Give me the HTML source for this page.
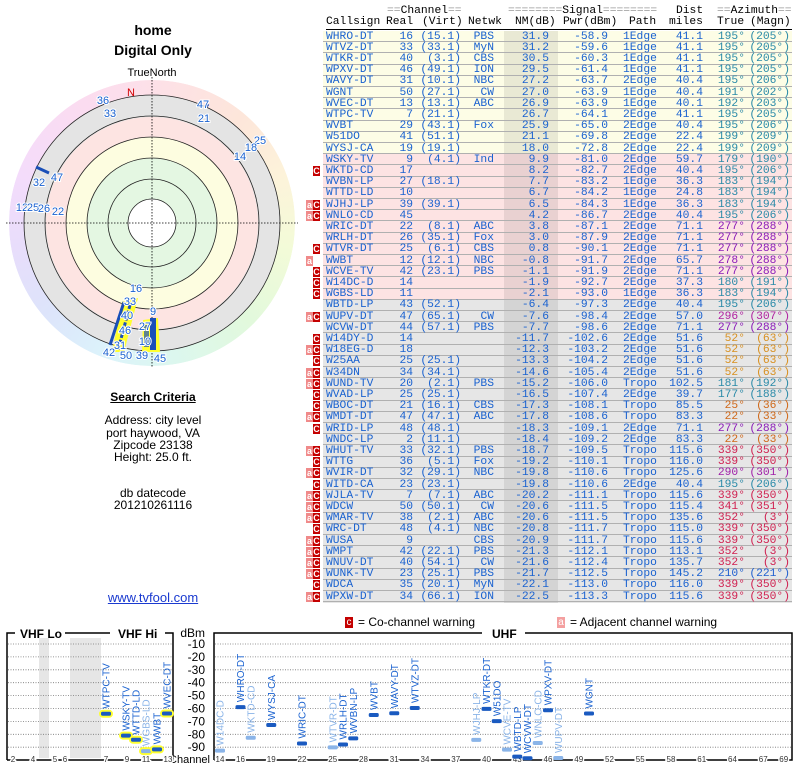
<!DOCTYPE html>
<html><head><meta charset="utf-8"><style>
body{margin:0;width:800px;height:768px;background:#fff;position:relative;overflow:hidden;font-family:"Liberation Sans",sans-serif}
.t{position:absolute;font-family:"Liberation Mono",monospace;font-size:11.3px;line-height:11px;white-space:pre;color:#1a62d0}
.h{color:#000}
.r{position:absolute;left:323px;width:469px;height:11.2px;border-bottom:1px solid #b0b0b0;box-sizing:border-box}
.nm{position:absolute;left:504px;width:54px;top:31px;height:572px;background:rgba(0,0,0,0.08)}
.b{position:absolute;width:7px;height:10px;font:bold 9px "Liberation Sans",sans-serif;color:#fff;text-align:center;line-height:10px}
.c{background:#c40000;left:313px}.a{background:#f08a8a;left:306px}
.lt{position:absolute;width:300px;left:0;text-align:center;font-size:12px;color:#000}
</style></head><body>
<div class="lt" style="top:22px;font-size:14px;font-weight:bold;left:3px">home</div>
<div class="lt" style="top:42px;font-size:14px;font-weight:bold;left:3px">Digital Only</div>
<svg style="position:absolute;left:0;top:60px" width="300" height="310" viewBox="0 60 300 310">
<defs><clipPath id="ring"><path d="M152,80a143,143 0 1,0 0.01,0zM152,95a128,128 0 1,1 -0.01,0z" clip-rule="evenodd"/></clipPath></defs>
<foreignObject x="9" y="80" width="286" height="286" clip-path="url(#ring)"><div xmlns="http://www.w3.org/1999/xhtml" style="width:286px;height:286px;border-radius:50%;background:conic-gradient(#fde0e8,#fde6da 40deg,#fdf3da 70deg,#f3fbd8 100deg,#e2f9dc 135deg,#dcf7ee 170deg,#dcf3fb 200deg,#dde4fb 230deg,#e8ddfb 260deg,#f4dcfb 290deg,#fbdcf0 330deg,#fde0e8)"></div></foreignObject>
<circle cx="152" cy="223" r="128" fill="#e4e4e4"/>
<circle cx="152" cy="223" r="106" fill="#fde4e2"/>
<circle cx="152" cy="223" r="86" fill="#fdfde0"/>
<circle cx="152" cy="223" r="65" fill="#e4f7e2"/>
<circle cx="152" cy="223" r="24" fill="#fff"/>
<g fill="none" stroke="#222" stroke-width="0.8"><circle cx="152" cy="223" r="128"/><circle cx="152" cy="223" r="107"/><circle cx="152" cy="223" r="86"/><circle cx="152" cy="223" r="65"/><circle cx="152" cy="223" r="44"/><circle cx="152" cy="223" r="24"/></g>
<g stroke="#000" stroke-width="0.8" stroke-dasharray="1.5,1.5"><line x1="6" y1="223" x2="298" y2="223"/><line x1="152" y1="77" x2="152" y2="368"/></g>
<text x="152" y="76" font-size="11" text-anchor="middle">TrueNorth</text>
<text x="131" y="96" font-size="11" fill="#d00000" text-anchor="middle">N</text>
<polygon points="122,302 138,298 124,352 112,352" fill="#ffff30"/>
<polygon points="143,320 158,318 160,352 142,352" fill="#ffff30"/>
<line x1="124" y1="302" x2="110" y2="345" stroke="#1a4fb8" stroke-width="3"/>
<line x1="130" y1="305" x2="118" y2="350" stroke="#1a4fb8" stroke-width="3" stroke-dasharray="4,2"/>
<rect x="150" y="318" width="6" height="32" fill="#1a4fb8"/><rect x="144" y="325" width="5" height="22" fill="#1a4fb8" opacity=".7"/>
<line x1="36" y1="167" x2="49" y2="173" stroke="#1a4fb8" stroke-width="3"/>
<line x1="205" y1="108" x2="208" y2="104" stroke="#1a4fb8" stroke-width="3"/>
<g font-size="11" fill="#1a62d0" text-anchor="middle" stroke="#fff" stroke-width="2" paint-order="stroke">
<text x="103" y="104">36</text><text x="110" y="117">33</text><text x="203" y="108">47</text><text x="204" y="122">21</text>
<text x="260" y="144">25</text><text x="251" y="151">18</text><text x="240" y="160">14</text><text x="57" y="181">47</text>
<text x="39" y="186">32</text><text x="22" y="211">12</text><text x="33" y="211">25</text><text x="44" y="212">26</text><text x="58" y="215">22</text>
<text x="136" y="292">16</text><text x="130" y="305">33</text><text x="127" y="319">40</text><text x="125" y="334">46</text>
<text x="120" y="349">31</text><text x="109" y="356">42</text><text x="126" y="359">50</text><text x="153" y="315">9</text>
<text x="145" y="330">27</text><text x="145" y="345">10</text><text x="142" y="359">39</text><text x="160" y="362">45</text></g>
</svg>
<div class="lt" style="top:390px;font-weight:bold;text-decoration:underline;left:3px">Search Criteria</div>
<div class="lt" style="top:413px;left:3px">Address: city level</div>
<div class="lt" style="top:426px;left:3px">port haywood, VA</div>
<div class="lt" style="top:438px;left:3px">Zipcode 23138</div>
<div class="lt" style="top:450px;left:3px">Height: 25.0 ft.</div>
<div class="lt" style="top:486px;left:3px">db datecode</div>
<div class="lt" style="top:498px;left:3px">201210261116</div>
<div class="lt" style="top:590px;left:3px;color:#1a3ad0;text-decoration:underline;font-size:13px">www.tvfool.com</div>

<div style="position:absolute;left:323px;top:31px;width:469px;height:123px;background:#fdfde6"></div>
<div style="position:absolute;left:323px;top:154px;width:469px;height:146px;background:#fde3e3"></div>
<div style="position:absolute;left:323px;top:300px;width:469px;height:303px;background:#e6e6e6"></div>
<div class="nm"></div>
<div style="position:absolute;left:326px;top:29px;width:466px;border-top:1px solid #000"></div>
<div class="t h" style="left:387px;top:6px"><span style="color:#999">==</span>Channel<span style="color:#999">==</span></div>
<div class="t h" style="left:508px;top:6px"><span style="color:#999">========</span>Signal<span style="color:#999">========</span></div>
<div class="t h" style="left:676px;top:6px">Dist</div>
<div class="t h" style="left:717px;top:6px"><span style="color:#999">==</span>Azimuth<span style="color:#999">==</span></div>
<div class="t h" style="left:326px;top:17px">Callsign</div><div class="t h" style="left:386px;top:17px">Real</div><div class="t h" style="left:422px;top:17px">(Virt)</div><div class="t h" style="left:468px;top:17px">Netwk</div><div class="t h" style="left:515px;top:17px">NM(dB)</div><div class="t h" style="left:563px;top:17px">Pwr(dBm)</div><div class="t h" style="left:629px;top:17px">Path</div><div class="t h" style="left:669px;top:17px">miles</div><div class="t h" style="left:717px;top:17px">True</div><div class="t h" style="left:750px;top:17px">(Magn)</div>
<div id="rows"></div>
<div style="position:absolute;left:345px;top:617px;width:8px;height:11px;background:#c40000;color:#fff;font-size:10px;text-align:center;line-height:11px">c</div>
<div style="position:absolute;left:358px;top:615px;font-size:12px">= Co-channel warning</div>
<div style="position:absolute;left:557px;top:617px;width:8px;height:11px;background:#f4a0a0;color:#fff;font-size:10px;text-align:center;line-height:11px">a</div>
<div style="position:absolute;left:570px;top:615px;font-size:12px">= Adjacent channel warning</div>
<svg id="bc" style="position:absolute;left:0;top:620px" width="800" height="148" viewBox="0 620 800 148"></svg>
<script>
var R=[
["WHRO-DT","16","(15.1)","PBS","31.9","-58.9","1Edge","41.1","195°","(205°)",""],
["WTVZ-DT","33","(33.1)","MyN","31.2","-59.6","1Edge","41.1","195°","(205°)",""],
["WTKR-DT","40","(3.1)","CBS","30.5","-60.3","1Edge","41.1","195°","(205°)",""],
["WPXV-DT","46","(49.1)","ION","29.5","-61.4","1Edge","41.1","195°","(205°)",""],
["WAVY-DT","31","(10.1)","NBC","27.2","-63.7","2Edge","40.4","195°","(206°)",""],
["WGNT","50","(27.1)","CW","27.0","-63.9","1Edge","40.4","191°","(202°)",""],
["WVEC-DT","13","(13.1)","ABC","26.9","-63.9","1Edge","40.1","192°","(203°)",""],
["WTPC-TV","7","(21.1)","","26.7","-64.1","2Edge","41.1","195°","(205°)",""],
["WVBT","29","(43.1)","Fox","25.9","-65.0","2Edge","40.4","195°","(206°)",""],
["W51DO","41","(51.1)","","21.1","-69.8","2Edge","22.4","199°","(209°)",""],
["WYSJ-CA","19","(19.1)","","18.0","-72.8","2Edge","22.4","199°","(209°)",""],
["WSKY-TV","9","(4.1)","Ind","9.9","-81.0","2Edge","59.7","179°","(190°)",""],
["WKTD-CD","17","","","8.2","-82.7","2Edge","40.4","195°","(206°)","c"],
["WVBN-LP","27","(18.1)","","7.7","-83.2","1Edge","36.3","183°","(194°)",""],
["WTTD-LD","10","","","6.7","-84.2","1Edge","24.8","183°","(194°)",""],
["WJHJ-LP","39","(39.1)","","6.5","-84.3","1Edge","36.3","183°","(194°)","ac"],
["WNLO-CD","45","","","4.2","-86.7","2Edge","40.4","195°","(206°)","ac"],
["WRIC-DT","22","(8.1)","ABC","3.8","-87.1","2Edge","71.1","277°","(288°)",""],
["WRLH-DT","26","(35.1)","Fox","3.0","-87.9","2Edge","71.1","277°","(288°)",""],
["WTVR-DT","25","(6.1)","CBS","0.8","-90.1","2Edge","71.1","277°","(288°)","c"],
["WWBT","12","(12.1)","NBC","-0.8","-91.7","2Edge","65.7","278°","(288°)","a"],
["WCVE-TV","42","(23.1)","PBS","-1.1","-91.9","2Edge","71.1","277°","(288°)","c"],
["W14DC-D","14","","","-1.9","-92.7","2Edge","37.3","180°","(191°)","c"],
["WGBS-LD","11","","","-2.1","-93.0","1Edge","36.3","183°","(194°)","c"],
["WBTD-LP","43","(52.1)","","-6.4","-97.3","2Edge","40.4","195°","(206°)",""],
["WUPV-DT","47","(65.1)","CW","-7.6","-98.4","2Edge","57.0","296°","(307°)","ac"],
["WCVW-DT","44","(57.1)","PBS","-7.7","-98.6","2Edge","71.1","277°","(288°)",""],
["W14DY-D","14","","","-11.7","-102.6","2Edge","51.6","52°","(63°)","c"],
["W18EG-D","18","","","-12.3","-103.2","2Edge","51.6","52°","(63°)","ac"],
["W25AA","25","(25.1)","","-13.3","-104.2","2Edge","51.6","52°","(63°)","c"],
["W34DN","34","(34.1)","","-14.6","-105.4","2Edge","51.6","52°","(63°)","ac"],
["WUND-TV","20","(2.1)","PBS","-15.2","-106.0","Tropo","102.5","181°","(192°)","ac"],
["WVAD-LP","25","(25.1)","","-16.5","-107.4","2Edge","39.7","177°","(188°)","c"],
["WBOC-DT","21","(16.1)","CBS","-17.3","-108.1","Tropo","85.5","25°","(36°)","c"],
["WMDT-DT","47","(47.1)","ABC","-17.8","-108.6","Tropo","83.3","22°","(33°)","ac"],
["WRID-LP","48","(48.1)","","-18.3","-109.1","2Edge","71.1","277°","(288°)","c"],
["WNDC-LP","2","(11.1)","","-18.4","-109.2","2Edge","83.3","22°","(33°)",""],
["WHUT-TV","33","(32.1)","PBS","-18.7","-109.5","Tropo","115.6","339°","(350°)","ac"],
["WTTG","36","(5.1)","Fox","-19.2","-110.1","Tropo","116.0","339°","(350°)","c"],
["WVIR-DT","32","(29.1)","NBC","-19.8","-110.6","Tropo","125.6","290°","(301°)","ac"],
["WITD-CA","23","(23.1)","","-19.8","-110.6","2Edge","40.4","195°","(206°)","c"],
["WJLA-TV","7","(7.1)","ABC","-20.2","-111.1","Tropo","115.6","339°","(350°)","ac"],
["WDCW","50","(50.1)","CW","-20.6","-111.5","Tropo","115.4","341°","(351°)","ac"],
["WMAR-TV","38","(2.1)","ABC","-20.6","-111.5","Tropo","135.6","352°","(3°)","ac"],
["WRC-DT","48","(4.1)","NBC","-20.8","-111.7","Tropo","115.0","339°","(350°)","c"],
["WUSA","9","","CBS","-20.9","-111.7","Tropo","115.6","339°","(350°)","ac"],
["WMPT","42","(22.1)","PBS","-21.3","-112.1","Tropo","113.1","352°","(3°)","ac"],
["WNUV-DT","40","(54.1)","CW","-21.6","-112.4","Tropo","135.7","352°","(3°)","ac"],
["WUNK-TV","23","(25.1)","PBS","-21.7","-112.5","Tropo","145.2","210°","(221°)","ac"],
["WDCA","35","(20.1)","MyN","-22.1","-113.0","Tropo","116.0","339°","(350°)","c"],
["WPXW-DT","34","(66.1)","ION","-22.5","-113.3","Tropo","115.6","339°","(350°)","ac"]];
function az(a){a=parseInt(a);if(a>=330)return"#d02050";if(a==290)return"#a020a8";if(a==296)return"#b020a0";if(a>=270)return"#8a1ab8";if(a==210)return"#2060d0";if(a>=170)return"#2a8aa8";if(a==52)return"#d89020";return"#d06818"}
var h="";
R.forEach(function(r,i){var y=31+i*11.2;
h+='<div class="r" style="top:'+y+'px"></div>';
var tt=y+0.5;
function R_(x,w,s,col){h+='<div class="t" style="left:'+x+'px;top:'+tt+'px;width:'+w+'px;text-align:right'+(col?';color:'+col:'')+'">'+s+'</div>'}
h+='<div class="t" style="left:326px;top:'+tt+'px">'+r[0]+'</div>';
R_(380,33,r[1]);R_(415,46,r[2]);R_(460,34,r[3]);R_(505,44,r[4]);R_(560,48,r[5]);
h+='<div class="t" style="left:623px;top:'+tt+'px">'+r[6]+'</div>';
R_(660,43,r[7]);R_(705,40,r[8],az(r[8]));R_(745,45,r[9],az(r[8]));
if(r[10].indexOf("c")>=0)h+='<div class="b c" style="top:'+(y+0.5)+'px">C</div>';
if(r[10].indexOf("a")>=0)h+='<div class="b a" style="top:'+(y+0.5)+'px">a</div>';
});
document.getElementById("rows").innerHTML=h;
var s="";function Y(d){return 644+(-10-d)/10*12.9}
s+='<rect x="39" y="638" width="10" height="120" fill="#e6e6e6"/><rect x="70" y="638" width="31" height="120" fill="#e6e6e6"/>';
for(var d=-10;d>=-90;d-=10){var y=Y(d);s+='<line x1="8" y1="'+y+'" x2="172" y2="'+y+'" stroke="#777" stroke-width="0.8" stroke-dasharray="1,1.5"/><line x1="215" y1="'+y+'" x2="791" y2="'+y+'" stroke="#777" stroke-width="0.8" stroke-dasharray="1,1.5"/>';
s+='<text x="205" y="'+(y+4)+'" font-size="12" text-anchor="end">'+d+'</text>';}
s+='<text x="205" y="637" font-size="12" text-anchor="end">dBm</text><text x="210" y="763" font-size="11" text-anchor="end">Channel</text>';
s+='<path d="M7,760V633H15M65,633H110M165,633H173V760H7" fill="none" stroke="#000" stroke-width="1.5"/>';
s+='<text x="20" y="638" font-size="12" font-weight="bold">VHF Lo</text><text x="118" y="638" font-size="12" font-weight="bold">VHF Hi</text>';
s+='<path d="M214,760V633H482M525,633H792V760H214" fill="none" stroke="#000" stroke-width="1.5"/><text x="492" y="638" font-size="12" font-weight="bold">UHF</text>';
var L=[[2,13],[4,33],[5,55],[6,65],[7,106],[9,127],[11,146],[13,168]];
L.forEach(function(l){s+='<text x="'+l[1]+'" y="762" font-size="8" text-anchor="middle" fill="#333" stroke="#fff" stroke-width="3" paint-order="stroke">'+l[0]+'</text>'});
[14,16,19,22,25,28,31,34,37,40,43,46,49,52,55,58,61,64,67,69].forEach(function(c){var x=220+(c-14)*10.25;s+='<text x="'+x+'" y="762" font-size="8" text-anchor="middle" fill="#333" stroke="#fff" stroke-width="3" paint-order="stroke">'+c+'</text>'});
function st(x,d,n,light,yel){var y=Y(d);var c=light?"#8ab4e8":"#1a5ac0";
if(yel)s+='<rect x="'+(x-7)+'" y="'+(y-4)+'" width="14" height="8" rx="4" fill="#ffff30"/>';
s+='<rect x="'+(x-5)+'" y="'+(y-2)+'" width="10" height="4" rx="1.5" fill="'+c+'"/>';
s+='<text transform="translate('+(x+3.5)+','+(y-5)+') rotate(-90)" font-size="10" fill="'+(light?"#8ab4e8":"#1a62d0")+'">'+n+'</text>'}
st(106,-64.1,"WTPC-TV",0,1);st(126,-81,"WSKY-TV",0,1);st(136,-84.2,"WTTD-LD",0,1);st(146,-93,"WGBS-LD",1,1);st(157,-91.7,"WWBT",0,1);st(167,-63.9,"WVEC-DT",0,1);
var U=[["W14DC-D",14,-92.7,1],["WHRO-DT",16,-58.9],["WKTD-CD",17,-82.7,1],["WYSJ-CA",19,-72.8],["WRIC-DT",22,-87.1],["WTVR-DT",25,-90.1,1],["WRLH-DT",26,-87.9],["WVBN-LP",27,-83.2],["WVBT",29,-65],["WAVY-DT",31,-63.7],["WTVZ-DT",33,-59.6],["WJHJ-LP",39,-84.3,1],["WTKR-DT",40,-60.3],["W51DO",41,-69.8],["WCVE-TV",42,-91.9,1],["WBTD-LP",43,-97.3],["WCVW-DT",44,-98.6],["WNLO-CD",45,-86.7,1],["WPXV-DT",46,-61.4],["WUPV-DT",47,-98.4,1],["WGNT",50,-63.9]];
U.forEach(function(u){st(220+(u[1]-14)*10.25,u[2],u[0],u[3],0)});
document.getElementById("bc").innerHTML=s;
</script>
</body></html>
